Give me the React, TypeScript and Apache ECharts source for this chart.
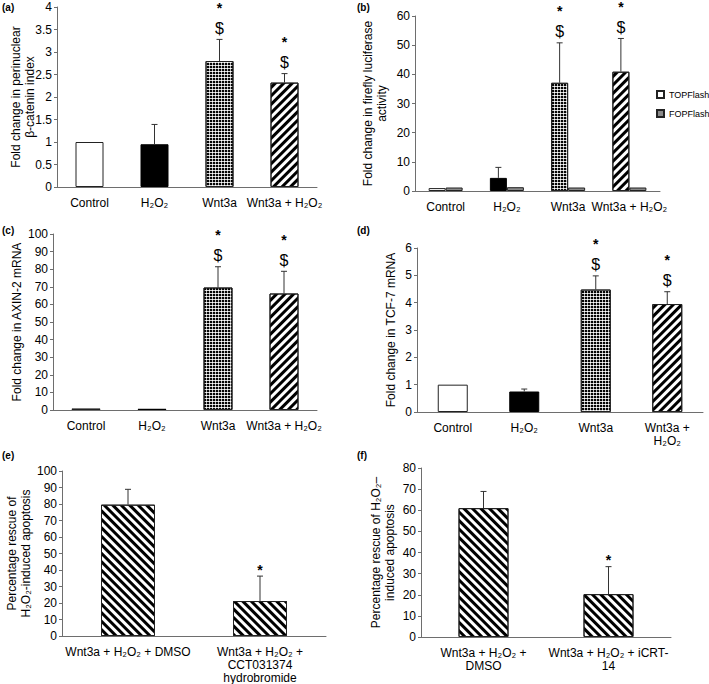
import React, { useEffect, useRef } from 'react';
import * as echarts from 'echarts';

// ---------- data ----------
const catsMain = ['Control', 'H₂O₂', 'Wnt3a', 'Wnt3a + H₂O₂'];
const catsD = ['Control', 'H₂O₂', 'Wnt3a', 'Wnt3a +\nH₂O₂'];
const catsE = ['Wnt3a + H₂O₂ + DMSO', 'Wnt3a + H₂O₂ +\nCCT031374\nhydrobromide'];
const catsF = ['Wnt3a + H₂O₂ +\nDMSO', 'Wnt3a + H₂O₂ + iCRT-\n14'];

const aVals = [1.0, 0.95, 2.8, 2.32];
const aErr = [0, 0.44, 0.48, 0.2];
const aMarks = ['', '', '*$', '*$'];

const bTop = [1.0, 4.5, 37.1, 40.9];
const bTopErr = [0, 3.6, 13.7, 11.4];
const bFop = [1.2, 1.3, 1.2, 1.2];
const bFopErr = [0, 0, 0, 0];
const bMarks = ['', '', '*$', '*$'];

const cVals = [0.9, 0.7, 69.6, 66.2];
const cErr = [0, 0, 11.8, 12.6];
const cMarks = ['', '', '*$', '*$'];

const dVals = [1.0, 0.75, 4.48, 3.95];
const dErr = [0, 0.09, 0.5, 0.45];
const dMarks = ['', '', '*$', '*$'];

const eVals = [79.6, 21.2];
const eErr = [9.3, 15.1];
const eMarks = ['', '*'];

const fVals = [61.0, 20.3];
const fErr = [7.9, 13.0];
const fMarks = ['', '*'];

// ---------- styles ----------
const FONT = 'Liberation Sans, Arial, sans-serif';
const dots = {
  symbol: 'circle', symbolSize: 1.3, color: '#000',
  dashArrayX: [2, 1], dashArrayY: [2, 1], rotation: 0,
};
const stripesUp = {
  symbol: 'rect', symbolSize: 1, color: '#000',
  dashArrayX: [1, 0], dashArrayY: [3, 3], rotation: -Math.PI / 4,
};
const stripesDown = {
  symbol: 'rect', symbolSize: 1, color: '#000',
  dashArrayX: [1, 0], dashArrayY: [3, 3], rotation: Math.PI / 4,
};
const fourStyles = [
  { color: '#fff', borderColor: '#222', borderWidth: 1 },
  { color: '#000', borderColor: '#000', borderWidth: 1 },
  { color: '#fff', borderColor: '#222', borderWidth: 1, decal: dots },
  { color: '#fff', borderColor: '#222', borderWidth: 1, decal: stripesUp },
];
const twoStyles = [
  { color: '#fff', borderColor: '#222', borderWidth: 1, decal: stripesDown },
  { color: '#fff', borderColor: '#222', borderWidth: 1, decal: stripesDown },
];

function barSeries(name: string, idx: number, vals: number[], styles: any[], barWidth: number, extra: any = {}) {
  return {
    type: 'bar', name, xAxisIndex: idx, yAxisIndex: idx, barWidth, z: 2,
    data: vals.map((v, i) => ({ value: v, itemStyle: styles[i] })),
    ...extra,
  };
}

function errSeries(idx: number, vals: number[], errs: number[], marks: string[], offset: number) {
  return {
    type: 'custom', xAxisIndex: idx, yAxisIndex: idx, z: 5, silent: true, clip: false,
    data: vals.map((v, i) => [i, v, errs[i]]),
    renderItem: (params: any, api: any) => {
      const i = api.value(0);
      const v = api.value(1);
      const e = api.value(2);
      const mark = marks[params.dataIndex] || '';
      const base = api.coord([i, v]);
      const top = api.coord([i, v + e]);
      const x = base[0] + offset;
      const children: any[] = [];
      if (e > 0) {
        children.push({ type: 'line', shape: { x1: x, y1: base[1], x2: x, y2: top[1] }, style: { stroke: '#333', lineWidth: 1 } });
        children.push({ type: 'line', shape: { x1: x - 3, y1: top[1], x2: x + 3, y2: top[1] }, style: { stroke: '#333', lineWidth: 1 } });
      }
      const hasDollar = mark.indexOf('$') >= 0;
      if (hasDollar) {
        children.push({ type: 'text', x, y: top[1] - 11, style: { text: '$', fontSize: 16, fontFamily: FONT, fill: '#000', align: 'center', verticalAlign: 'middle' } });
      }
      if (mark.indexOf('*') >= 0) {
        const center = top[1] - (hasDollar ? 34 : 9);
        children.push({ type: 'text', x, y: center - 4.5, style: { text: '*', fontSize: 14, fontWeight: 'bold', fontFamily: FONT, fill: '#000', align: 'center', verticalAlign: 'top' } });
      }
      return { type: 'group', children };
    },
  };
}

const grids = [
  { left: 57, top: 7, width: 260, height: 180 },
  { left: 415, top: 16, width: 245, height: 175 },
  { left: 53, top: 234, width: 264, height: 176 },
  { left: 417, top: 248, width: 286, height: 164 },
  { left: 62, top: 471, width: 264, height: 165 },
  { left: 421, top: 468, width: 250, height: 169 },
];
const xCats = [catsMain, catsMain, catsMain, catsD, catsE, catsF];
const yRanges = [
  { max: 4, interval: 0.5 },
  { max: 60, interval: 10 },
  { max: 100, interval: 10 },
  { max: 6, interval: 1 },
  { max: 100, interval: 10 },
  { max: 80, interval: 10 },
];
const yNames = [
  'Fold change in perinuclear\nβ-catenin index',
  'Fold change in firefly luciferase\nactivity',
  'Fold change in AXIN-2 mRNA',
  'Fold change in TCF-7 mRNA',
  'Percentage rescue of\nH₂O₂-induced apoptosis',
  'Percentage rescue of H₂O₂–\ninduced apoptosis',
];
const yNameGaps = [20, 26, 29, 19, 29, 24];
const panelLabels = ['(a)', '(b)', '(c)', '(d)', '(e)', '(f)'];
const panelPos = [[2, 2], [357, 2], [2, 225], [357, 225], [2, 450], [357, 450]];

export default function App() {
  const ref = useRef<HTMLDivElement>(null);
  useEffect(() => {
    if (!ref.current) return;
    const chart = echarts.init(ref.current, undefined, { renderer: 'svg' });
    const axisLineStyle = { color: '#6e6e6e', width: 1 };
    const option: any = {
      animation: false,
      backgroundColor: '#fff',
      textStyle: { fontFamily: FONT },
      grid: grids,
      xAxis: xCats.map((cats, i) => ({
        type: 'category', gridIndex: i, data: cats,
        axisLine: { show: true, lineStyle: axisLineStyle },
        axisTick: { show: false },
        axisLabel: { interval: 0, color: '#000', fontSize: 12, lineHeight: 13, margin: 9, fontFamily: FONT },
      })),
      yAxis: yRanges.map((r, i) => ({
        type: 'value', gridIndex: i, min: 0, max: r.max, interval: r.interval,
        name: yNames[i], nameLocation: 'middle', nameGap: yNameGaps[i], nameMoveOverlap: false,
        nameTextStyle: { fontSize: 12, lineHeight: 14, color: '#000', fontFamily: FONT },
        axisLine: { show: true, lineStyle: axisLineStyle },
        axisTick: { show: true, length: 3, lineStyle: axisLineStyle },
        splitLine: { show: false },
        axisLabel: { color: '#000', fontSize: 12, margin: 5, fontFamily: FONT },
      })),
      legend: {
        data: ['TOPFlash', 'FOPFlash'], orient: 'vertical', left: 651, top: 85,
        itemWidth: 7, itemHeight: 7, itemGap: 10, icon: 'rect',
        textStyle: { fontSize: 9, color: '#000', fontFamily: FONT },
      },
      graphic: panelLabels.map((t, i) => ({
        type: 'text', left: panelPos[i][0], top: panelPos[i][1],
        style: { text: t, font: `bold 10px ${FONT}`, fill: '#000' },
      })),
      series: [
        barSeries('a', 0, aVals, fourStyles, 28),
        errSeries(0, aVals, aErr, aMarks, 0),
        barSeries('TOPFlash', 1, bTop, fourStyles, 17, { barGap: '0%', itemStyle: { color: '#fff', borderColor: '#222', borderWidth: 1 } }),
        barSeries('FOPFlash', 1, bFop, [0, 1, 2, 3].map(() => ({ color: '#8a8a8a', borderColor: '#222', borderWidth: 1 })), 17, { barGap: '0%', itemStyle: { color: '#8a8a8a', borderColor: '#222', borderWidth: 1 } }),
        errSeries(1, bTop, bTopErr, bMarks, -8.5),
        errSeries(1, bFop, bFopErr, ['', '', '', ''], 8.5),
        barSeries('c', 2, cVals, fourStyles, 29),
        errSeries(2, cVals, cErr, cMarks, 0),
        barSeries('d', 3, dVals, fourStyles, 30),
        errSeries(3, dVals, dErr, dMarks, 0),
        barSeries('e', 4, eVals, twoStyles, 54),
        errSeries(4, eVals, eErr, eMarks, 0),
        barSeries('f', 5, fVals, twoStyles, 50),
        errSeries(5, fVals, fErr, fMarks, 0),
      ],
    };
    chart.setOption(option);
    return () => chart.dispose();
  }, []);
  return <div ref={ref} style={{ position: 'absolute', left: 0, top: 0, width: 709, height: 684 }} />;
}
